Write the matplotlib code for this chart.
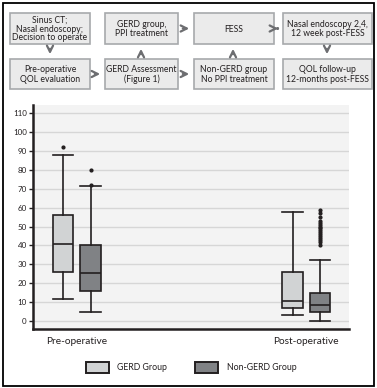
import matplotlib
matplotlib.use("Agg")
import matplotlib.pyplot as plt
from matplotlib.patches import Rectangle

plt.rcParams['font.family'] = ['Lato', 'DejaVu Sans']

# box plot statistics (QOL score)
groups = ["GERD Group", "Non-GERD Group"]
periods = ["Pre-operative", "Post-operative"]
whislo = [[11.5, 5], [3, 0]]
q1 = [[26, 16], [7, 5]]
med = [[41, 25.5], [10.5, 8.5]]
q3 = [[56, 40], [26, 15]]
whishi = [[88, 71.5], [57.5, 32.5]]
fliers = [[[92], [80, 72]],
          [[], [59, 57, 55, 53, 52, 51, 50, 49, 48, 47, 46, 45, 44, 43, 42, 40]]]
yticks = list(range(0, 111, 10))

# flow chart boxes
steps = ["Sinus CT;\nNasal endoscopy;\nDecision to operate",
         "GERD group,\nPPI treatment",
         "FESS",
         "Nasal endoscopy 2,4,\n12 week post-FESS",
         "Pre-operative\nQOL evaluation",
         "GERD Assessment\n(Figure 1)",
         "Non-GERD group\nNo PPI treatment",
         "QOL follow-up\n12-months post-FESS"]

fills = ["#d1d3d4", "#808285"]
dark = "#231f20"

fig = plt.figure(figsize=(3.77, 3.88), dpi=100)

# overlay in pixel units for frame, flow chart and legend
ov = fig.add_axes([0, 0, 1, 1])
ov.set_xlim(0, 377)
ov.set_ylim(388, 0)
ov.axis("off")
ov.add_patch(Rectangle((3, 3), 371, 383, fill=False, ec="black", lw=1.3))

cols = [(10, 90), (105, 178), (194, 274), (283, 372)]
rows = [(13, 44), (59, 89)]
for i, s in enumerate(steps):
    r, c = divmod(i, 4)
    x0, x1 = cols[c]
    y0, y1 = rows[r]
    ov.add_patch(Rectangle((x0, y0), x1 - x0, y1 - y0, fc="#ebebeb", ec="#a7a9ac", lw=1.2))
    ov.text((x0 + x1) / 2, (y0 + y1) / 2 + 0.5, s, ha="center", va="center",
            fontsize=6.2, color=dark, linespacing=1.0)

arr = dict(arrowstyle="->", color="#6d6e71", lw=1.6, mutation_scale=11)
ym = [(a + b) / 2 for a, b in rows]
for (xa, xb, y) in [(92, 103, ym[1]), (180, 192, ym[1]), (180, 192, ym[0]), (275, 281, ym[0])]:
    ov.annotate("", xy=(xb, y), xytext=(xa, y), arrowprops=arr)
for (x, ya, yb) in [(50, 46, 57), (327, 46, 57)]:
    ov.annotate("", xy=(x, yb), xytext=(x, ya), arrowprops=arr)
for (x, ya, yb) in [(141, 57, 46), (233, 57, 46)]:
    ov.annotate("", xy=(x, yb), xytext=(x, ya), arrowprops=arr)

# legend
for (px, tx), g, f in zip([(86, 117), (195, 227)], groups, fills):
    ov.add_patch(Rectangle((px, 362), 23, 11, fc=f, ec=dark, lw=1.4))
    ov.text(tx, 367.5, g, ha="left", va="center", fontsize=6.3, color=dark)

# box plot
ax = fig.add_axes([33 / 377, 1 - 329 / 388, 316 / 377, 224 / 388])
ax.set_facecolor("#f3f3f3")
off = 0.06
for p in range(2):
    for g in range(2):
        st = [dict(whislo=whislo[p][g], q1=q1[p][g], med=med[p][g], q3=q3[p][g],
                   whishi=whishi[p][g], fliers=fliers[p][g])]
        ax.bxp(st, positions=[p + 1 + (2 * g - 1) * off], widths=0.089, patch_artist=True,
               boxprops=dict(facecolor=fills[g], edgecolor=dark, lw=1.2),
               medianprops=dict(color=dark, lw=1.2),
               whiskerprops=dict(color=dark, lw=1.2),
               capprops=dict(color=dark, lw=1.2), capwidths=0.089,
               flierprops=dict(marker="o", markersize=2, markerfacecolor=dark,
                               markeredgecolor=dark), manage_ticks=False)

ax.set_xlim(0.809, 2.186)
ax.set_ylim(-4.24, 114.4)
ax.set_yticks(yticks)
ax.yaxis.grid(True, color="#d6d6d6", lw=1)
ax.set_axisbelow(True)
ax.tick_params(axis="y", labelsize=5.8, length=3, width=1, colors=dark, pad=1.5)
ax.set_xticks([1, 2])
ax.set_xticklabels(periods, fontsize=7.3, color=dark)
ax.tick_params(axis="x", length=0, pad=6)
for s in ["top", "right"]:
    ax.spines[s].set_visible(False)
for s in ["left", "bottom"]:
    ax.spines[s].set_linewidth(1.8)
    ax.spines[s].set_color(dark)

fig.savefig("out.png", dpi=100)
